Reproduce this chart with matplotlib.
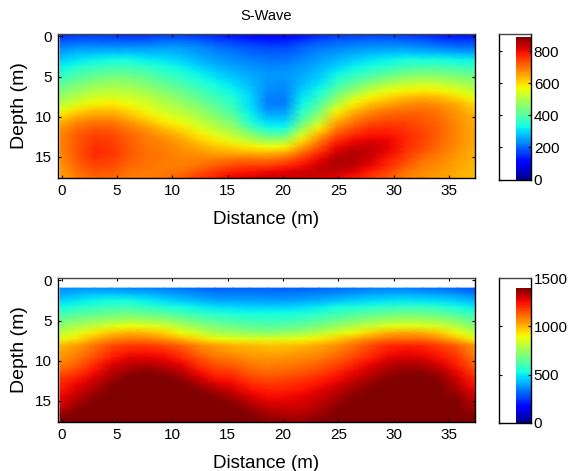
import numpy as np
import matplotlib
matplotlib.use("Agg")
import matplotlib.pyplot as plt

plt.rcParams['font.family'] = ['Liberation Sans', 'DejaVu Sans']

s_wave_rows = [
 [150,160,165,160,150,155,165,165,155,145,125,110,105,105,120,145,155,165,170,170,165,150,135,125,130],
 [190,200,200,195,195,200,210,210,200,180,165,150,140,140,160,185,195,205,210,210,205,195,180,170,170],
 [225,240,240,240,240,245,250,250,235,215,200,185,175,175,195,215,225,235,240,245,245,235,225,215,215],
 [260,280,285,290,290,280,280,270,250,235,220,205,195,195,215,235,250,265,275,285,290,285,280,270,265],
 [290,310,325,335,335,320,310,295,270,250,235,225,215,215,230,250,270,290,310,325,340,340,340,330,325],
 [320,345,365,375,375,360,340,320,295,270,255,240,230,230,245,265,290,320,340,355,375,385,385,375,365],
 [345,380,400,415,410,395,365,345,320,295,270,255,240,240,255,280,320,350,375,400,425,435,430,420,405],
 [375,410,435,450,445,425,395,370,340,315,290,265,245,240,265,295,345,385,420,450,475,490,480,465,445],
 [420,445,470,480,475,455,425,395,365,335,310,275,240,235,275,315,375,425,470,505,525,540,530,510,485],
 [445,475,505,515,505,485,455,425,390,355,325,290,235,230,290,335,415,470,525,560,580,590,580,555,520],
 [475,510,540,545,535,515,485,450,415,380,345,300,225,220,310,360,455,530,580,610,630,640,630,600,565],
 [505,545,575,585,565,540,505,480,440,400,360,305,220,220,325,395,500,580,625,650,670,680,665,640,600],
 [555,595,625,625,600,565,530,505,470,425,385,315,240,240,345,430,560,625,665,690,700,705,690,660,625],
 [600,640,660,660,630,595,560,530,495,455,415,330,270,270,375,470,605,665,700,720,725,720,700,670,640],
 [640,680,700,695,665,630,590,565,525,485,445,350,305,300,420,520,650,700,735,745,745,730,710,675,645],
 [665,705,725,720,695,665,630,600,555,515,475,400,335,335,470,585,690,735,765,770,760,740,715,680,650],
 [680,720,745,740,710,685,660,630,590,550,515,465,410,410,540,640,730,770,790,790,770,745,715,680,650],
 [685,725,755,750,720,695,680,655,620,590,555,515,480,490,600,690,770,800,815,805,775,745,710,680,650],
 [685,730,765,755,725,700,690,670,650,625,605,585,570,580,655,730,800,830,835,810,770,740,705,675,645],
 [680,730,770,760,725,705,695,680,670,655,650,640,640,655,710,770,830,850,835,800,760,725,695,670,640],
 [675,725,760,750,720,705,695,685,685,690,700,705,700,715,760,805,850,850,825,785,745,705,685,660,640],
 [670,715,745,740,710,700,690,690,700,720,740,750,750,770,795,830,855,840,805,770,725,690,675,655,635],
 [660,705,730,725,700,695,695,705,730,755,780,790,800,810,825,840,835,815,780,745,700,680,665,650,630],
 [645,695,715,710,695,695,700,720,755,785,810,825,835,830,825,820,805,785,755,720,690,675,660,645,630],
]

p_wave_rows = [
 [370,375,375,370,360,355,345,335,320,310,310,310,310,305,310,320,320,330,340,350,350,335,325,310,290],
 [410,430,445,450,440,430,410,390,370,355,350,350,345,345,350,365,375,390,405,415,420,410,400,380,360],
 [470,495,515,530,525,505,480,450,430,410,400,400,395,395,405,420,440,460,475,490,495,490,480,455,430],
 [530,555,575,600,600,575,550,525,505,490,480,470,465,465,480,500,525,545,560,575,585,580,565,530,500],
 [600,630,650,670,680,660,640,605,575,555,540,530,525,525,540,565,595,620,645,665,675,670,650,615,575],
 [670,700,730,750,770,760,735,700,660,625,605,590,580,580,600,630,665,700,730,760,770,765,745,700,650],
 [740,780,820,870,895,880,850,795,740,700,675,655,645,650,670,700,745,790,830,860,870,865,845,790,720],
 [810,860,925,980,1010,1000,960,895,835,780,750,735,725,735,760,800,850,900,960,1010,1025,1015,970,895,800],
 [880,940,1020,1070,1090,1085,1055,1010,950,900,875,870,865,870,890,920,970,1030,1075,1110,1115,1110,1070,1000,900],
 [1000,1040,1100,1160,1190,1190,1170,1130,1070,1040,1010,1000,980,985,1000,1030,1060,1110,1160,1210,1220,1215,1180,1130,1050],
 [1030,1070,1130,1200,1235,1240,1220,1180,1110,1070,1040,1030,1020,1020,1040,1060,1090,1140,1195,1240,1260,1250,1215,1170,1070],
 [1050,1100,1170,1240,1280,1285,1265,1220,1160,1110,1090,1060,1050,1060,1070,1090,1130,1180,1230,1280,1295,1290,1250,1200,1100],
 [1080,1130,1210,1280,1320,1330,1315,1270,1200,1150,1130,1095,1080,1090,1100,1130,1170,1220,1270,1320,1340,1335,1290,1225,1130],
 [1130,1180,1250,1320,1360,1380,1365,1320,1250,1195,1180,1130,1110,1120,1140,1170,1210,1260,1310,1355,1375,1375,1335,1260,1170],
 [1190,1230,1290,1350,1395,1410,1395,1365,1300,1240,1220,1170,1150,1160,1180,1210,1250,1295,1340,1380,1405,1410,1370,1290,1210],
 [1215,1265,1320,1380,1420,1430,1425,1400,1350,1290,1260,1210,1190,1195,1215,1245,1285,1330,1375,1410,1430,1430,1395,1320,1240],
 [1240,1295,1350,1410,1440,1450,1445,1430,1390,1340,1300,1250,1225,1225,1245,1275,1315,1360,1405,1440,1450,1450,1420,1350,1270],
 [1265,1325,1385,1435,1460,1470,1465,1450,1420,1385,1340,1290,1255,1255,1270,1300,1340,1390,1430,1460,1470,1470,1445,1380,1300],
 [1290,1355,1415,1455,1480,1490,1485,1470,1445,1420,1380,1330,1290,1280,1290,1320,1365,1415,1450,1480,1490,1490,1460,1410,1330],
 [1320,1385,1440,1475,1500,1510,1505,1490,1470,1445,1410,1365,1325,1310,1315,1345,1390,1435,1470,1500,1510,1510,1480,1430,1360],
 [1390,1410,1460,1490,1515,1525,1520,1505,1490,1470,1435,1395,1360,1340,1340,1370,1415,1455,1490,1515,1525,1525,1500,1450,1400],
 [1405,1430,1475,1505,1530,1540,1535,1520,1505,1490,1460,1420,1390,1375,1370,1395,1435,1475,1505,1530,1540,1540,1515,1470,1420],
]

x_ticks = [0, 5, 10, 15, 20, 25, 30, 35]
y_ticks = [0, 5, 10, 15]
s_cbar_ticks = [0, 200, 400, 600, 800]
p_cbar_ticks = [0, 500, 1000, 1500]
s_vmax = 890
p_vmax = 1400
s_cbar_top = 907
p_cbar_top = 1500

W, H = 573, 471
fig = plt.figure(figsize=(W / 100, H / 100), dpi=100)


def box(l, t, r, b):
    return [l / W, 1 - b / H, (r - l) / W, (b - t) / H]


def style(ax):
    ax.tick_params(direction='in', length=2.5, width=0.8, labelsize=11, pad=4, colors='black',
                   top=True, right=True)
    for s in ax.spines.values():
        s.set_linewidth(1.0)
    ax.spines['top'].set_color('#444444')


def panel(top, bottom, rows, vmax, ystart):
    ax = fig.add_axes(box(57.5, top, 474.5, bottom))
    z = np.array(rows, dtype=float)
    xc = np.linspace(-0.15, 37.3, z.shape[1])
    yc = np.linspace(ystart, 17.65, z.shape[0])
    ax.pcolormesh(xc, yc, z, cmap='jet', vmin=0, vmax=vmax, shading='gouraud')
    ax.set_xlim(-0.38, 37.3)
    ax.set_ylim(17.65, -0.3)
    ax.set_xticks(x_ticks)
    ax.set_yticks(y_ticks)
    ax.set_xlabel('Distance (m)', fontsize=13.5, labelpad=10)
    ax.set_ylabel('Depth (m)', fontsize=14, labelpad=5)
    style(ax)
    return ax


def cbar(top, bottom, vmax, ytop, ticks):
    ax = fig.add_axes(box(499, top, 531, bottom))
    levels = np.linspace(0, vmax, 65)
    ax.pcolormesh([0.53, 1.0], levels, ((levels[:-1] + levels[1:]) / 2)[:, None],
                  cmap='jet', vmin=0, vmax=vmax, shading='flat')
    ax.set_xlim(0, 1)
    ax.set_ylim(0, ytop)
    ax.set_xticks([])
    ax.set_yticks(ticks)
    ax.yaxis.tick_right()
    style(ax)
    ax.tick_params(left=True, right=True, top=False, labelleft=False, labelright=True, pad=2)
    return ax


ax1 = panel(34, 178, s_wave_rows, s_vmax, -0.15)
ax2 = panel(278, 422, p_wave_rows, p_vmax, 0.96)
ax1.set_title('S-Wave', fontsize=10.5, pad=10)
cbar(34, 179.5, s_vmax, s_cbar_top, s_cbar_ticks)
cbar(278, 423, p_vmax, p_cbar_top, p_cbar_ticks)

fig.savefig('out.png', dpi=100)
